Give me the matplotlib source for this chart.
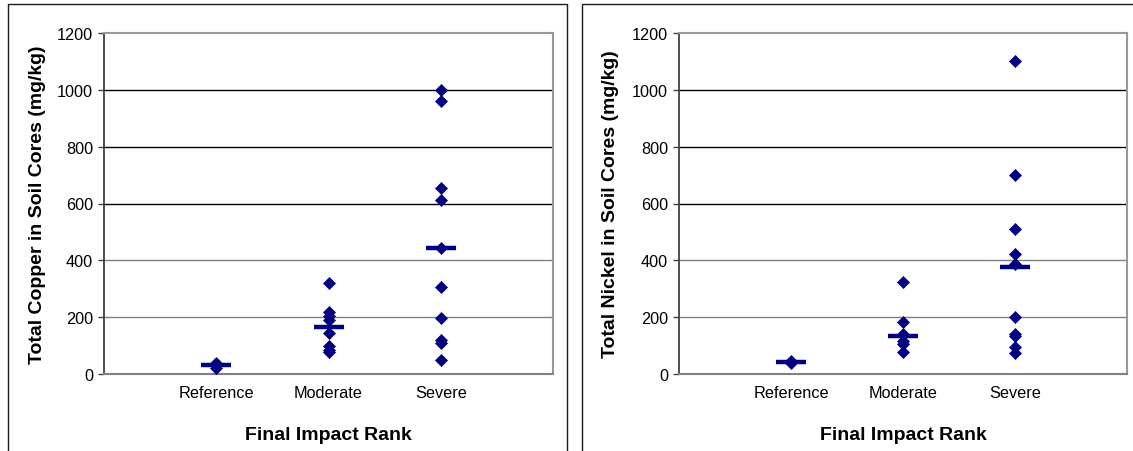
import matplotlib
matplotlib.use("Agg")
import matplotlib.pyplot as plt
from matplotlib.patches import Rectangle

plt.rcParams['font.family'] = ['Liberation Sans', 'DejaVu Sans']

categories = ["Reference", "Moderate", "Severe"]

# copper (mg/kg)
cu_reference = [40, 31, 22]
cu_moderate = [320, 219, 205, 191, 143, 97, 86, 77]
cu_severe = [1000, 959, 655, 613, 445, 305, 197, 121, 110, 48]
cu_center = [31, 165, 445]

# nickel (mg/kg)
ni_reference = [45, 40]
ni_moderate = [325, 182, 141, 117, 106, 76]
ni_severe = [1102, 701, 511, 423, 387, 202, 141, 135, 94, 73]
ni_center = [43, 135, 378]

yticks = [0, 200, 400, 600, 800, 1000, 1200]

navy = "#000080"
W, H = 1133, 452

fig = plt.figure(figsize=(W / 100, H / 100), dpi=100)

# outer chart frames
for x0, x1 in [(8, 567), (582, 1160)]:
    fig.patches.append(Rectangle((x0 / W, -0.1), (x1 - x0) / W, (H - 5) / H + 0.1,
                                 transform=fig.transFigure, fill=False,
                                 edgecolor="#1a1a1a", lw=1.0))


def panel(rect, groups, centers, ylabel):
    ax = fig.add_axes(rect)
    for i, vals in enumerate(groups):
        ax.plot([i + 1] * len(vals), vals, ls="none", marker="D", ms=5.8,
                mfc=navy, mec=navy, mew=0.5, zorder=3)
    ax.plot(range(1, len(centers) + 1), centers, ls="none", marker="_", ms=21,
            mew=3.2, color=navy, zorder=4)
    for v in yticks[1:-1]:
        ax.axhline(v, color="black" if v >= 600 else "#808080", lw=1.0, zorder=1)
    ax.set_xlim(0, 4)
    ax.set_ylim(0, 1200)
    ax.set_yticks(yticks)
    ax.set_xticks(range(1, len(categories) + 1))
    ax.set_xticklabels(categories)
    ax.tick_params(axis="x", length=0, pad=8, labelsize=11.7)
    ax.tick_params(axis="y", length=4, width=1, color="#404040", pad=4, labelsize=11.7)
    for s in ["top", "right", "bottom"]:
        ax.spines[s].set_color("#999999")
        ax.spines[s].set_linewidth(1.5)
    ax.spines["bottom"].set_color("#808080")
    ax.spines["left"].set_color("#404040")
    ax.spines["left"].set_linewidth(1.3)
    ax.set_xlabel("Final Impact Rank", fontsize=14, fontweight="bold")
    ax.set_ylabel(ylabel, fontsize=14, fontweight="bold")
    return ax


ax1 = panel([104 / W, 77 / H, 449 / W, 341 / H], [cu_reference, cu_moderate, cu_severe],
            cu_center, "Total Copper in Soil Cores (mg/kg)")
ax1.xaxis.set_label_coords(0.5, -0.176)
ax1.xaxis.label.set_va("center")
ax1.yaxis.set_label_coords(-0.147, 0.5)
ax1.yaxis.label.set_va("center")

ax2 = panel([679 / W, 77 / H, 448 / W, 341 / H], [ni_reference, ni_moderate, ni_severe],
            ni_center, "Total Nickel in Soil Cores (mg/kg)")
ax2.xaxis.set_label_coords(0.5, -0.176)
ax2.xaxis.label.set_va("center")
ax2.yaxis.set_label_coords(-0.152, 0.5)
ax2.yaxis.label.set_va("center")

fig.savefig("out.png", dpi=100)
